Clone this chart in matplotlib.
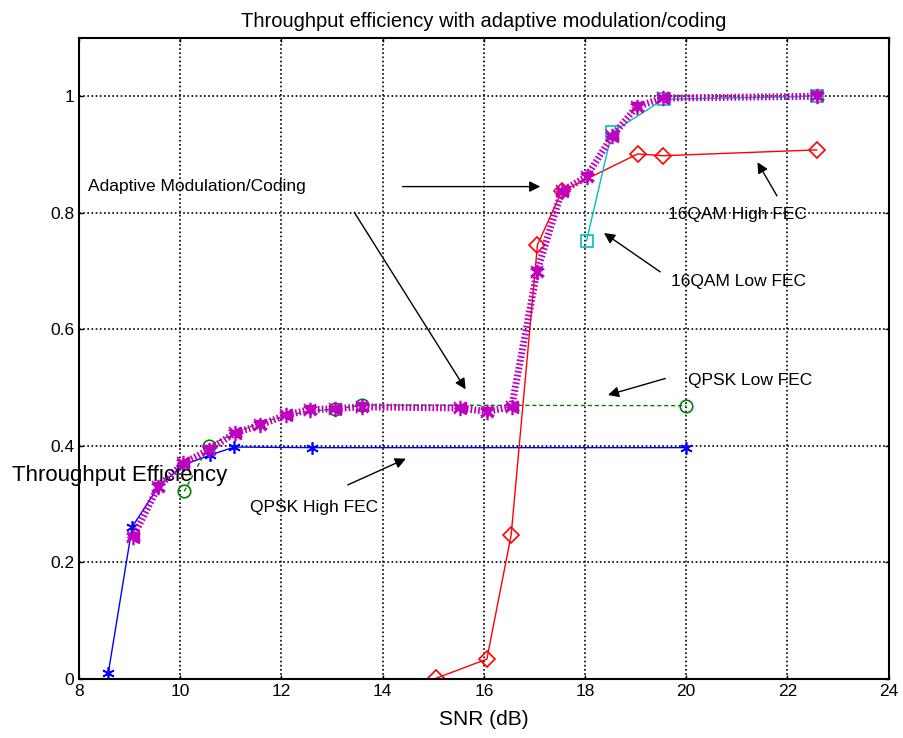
import matplotlib.pyplot as plt

# data
snr_qpsk_high = [8.58, 9.05, 9.57, 10.06, 10.58, 11.07, 12.61, 20.0]
eff_qpsk_high = [0.011, 0.261, 0.33, 0.367, 0.384, 0.398, 0.397, 0.397]

snr_qpsk_low = [10.08, 10.56, 11.08, 11.6, 12.1, 12.58, 13.06, 13.6, 20.0]
eff_qpsk_low = [0.322, 0.400, 0.422, 0.440, 0.452, 0.460, 0.463, 0.470, 0.469]

snr_16qam_high = [15.05, 16.06, 16.54, 17.06, 17.54, 19.04, 19.55, 22.58]
eff_16qam_high = [0.001, 0.034, 0.247, 0.745, 0.837, 0.901, 0.898, 0.908]

snr_16qam_low = [18.03, 18.53, 19.56, 22.58]
eff_16qam_low = [0.752, 0.938, 0.995, 1.0]

snr_adaptive = [9.07, 9.57, 10.06, 10.56, 11.08, 11.58, 12.1, 12.56, 13.06, 13.6,
                15.53, 16.06, 16.55, 17.05, 17.54, 18.03, 18.53, 19.02, 19.55, 22.58]
eff_adaptive = [0.244, 0.330, 0.370, 0.393, 0.422, 0.436, 0.453, 0.462, 0.464, 0.467,
                0.465, 0.459, 0.467, 0.699, 0.837, 0.862, 0.931, 0.982, 0.997, 1.0]

x_ticks = [8, 10, 12, 14, 16, 18, 20, 22, 24]
y_ticks = [0, 0.2, 0.4, 0.6, 0.8, 1.0]
y_tick_labels = ["0", "0.2", "0.4", "0.6", "0.8", "1"]

plt.rcParams['font.family'] = ['Liberation Sans', 'DejaVu Sans']

fig = plt.figure(figsize=(9.04, 7.38), dpi=100)
ax = fig.add_axes([0.0874, 0.080, 0.8956, 0.8685])

asterisk = (6, 2, 0)

# the single schemes
ax.plot(snr_qpsk_high, eff_qpsk_high, color='#0000ff', lw=1, marker=asterisk,
        ms=9, mew=1.2)
ax.plot(snr_qpsk_low, eff_qpsk_low, color='#008000', lw=1, ls=(0, (3, 2)),
        marker='o', ms=9, mfc='none', mew=1.2, markevery=[0, 1, 6, 7, 8])
ax.plot(snr_16qam_high, eff_16qam_high, color='#ff0000', lw=1, marker='D',
        ms=8, mfc='none', mew=1.2)
ax.plot(snr_16qam_low, eff_16qam_low, color='#00bfbf', lw=1, marker='s',
        ms=8, mfc='none', mew=1.2)

# adaptive curve: thick dotted magenta with several overlaid markers
ax.plot(snr_adaptive, eff_adaptive, color='#bf00bf', lw=5, ls=(0, (0.25, 0.3)),
        marker='<', ms=8, mec='#bf00bf', mfc='#bf00bf', markevery=slice(0, None, 2))
ax.plot(snr_adaptive, eff_adaptive, ls='none', marker='v', ms=7,
        mec='#bf00bf', mfc='#bf00bf', markevery=slice(1, None, 2))
ax.plot(snr_adaptive, eff_adaptive, ls='none', marker=asterisk, ms=11,
        mec='#bf00bf', mew=1.2)
ax.plot(snr_adaptive, eff_adaptive, ls='none', marker='x', ms=8,
        mec='#bf00bf', mew=1.2)

# annotations
arrow = dict(arrowstyle='-|>', color='k', lw=1, mutation_scale=16)
ax.text(8.18, 0.845, 'Adaptive Modulation/Coding', fontsize=12.5, va='center')
ax.annotate('', xy=(17.17, 0.845), xytext=(14.34, 0.845), arrowprops=arrow)
ax.annotate('', xy=(15.67, 0.493), xytext=(13.41, 0.805), arrowprops=arrow)

ax.text(20.04, 0.512, 'QPSK Low FEC', fontsize=12.5, va='center')
ax.annotate('', xy=(18.4, 0.486), xytext=(19.64, 0.517), arrowprops=arrow)

ax.text(11.38, 0.294, 'QPSK High FEC', fontsize=12.5, va='center')
ax.annotate('', xy=(14.51, 0.380), xytext=(13.26, 0.331), arrowprops=arrow)

ax.text(19.64, 0.797, '16QAM High FEC', fontsize=12.5, va='center')
ax.annotate('', xy=(21.38, 0.891), xytext=(21.82, 0.825), arrowprops=arrow)

ax.text(19.69, 0.682, '16QAM Low FEC', fontsize=12.5, va='center')
ax.annotate('', xy=(18.33, 0.768), xytext=(19.53, 0.696), arrowprops=arrow)

ax.set_xlim(8, 24)
ax.set_ylim(0, 1.1)
ax.set_xticks(x_ticks)
ax.set_yticks(y_ticks)
ax.set_yticklabels(y_tick_labels)
ax.tick_params(direction='in', length=3, labelsize=12.5, top=True, right=True,
               width=1)
ax.grid(True, color='k', ls=(0, (1, 1.5)), lw=1.2)
for side in ax.spines.values():
    side.set_linewidth(1.5)

ax.set_title('Throughput efficiency with adaptive modulation/coding',
             fontsize=14.5, pad=8)
ax.set_xlabel('SNR (dB)', fontsize=15, labelpad=8)
fig.text(12 / 904, 1 - 475 / 738, 'Throughput Efficiency', fontsize=16,
         va='center', ha='left')

fig.savefig('out.png', dpi=100)
